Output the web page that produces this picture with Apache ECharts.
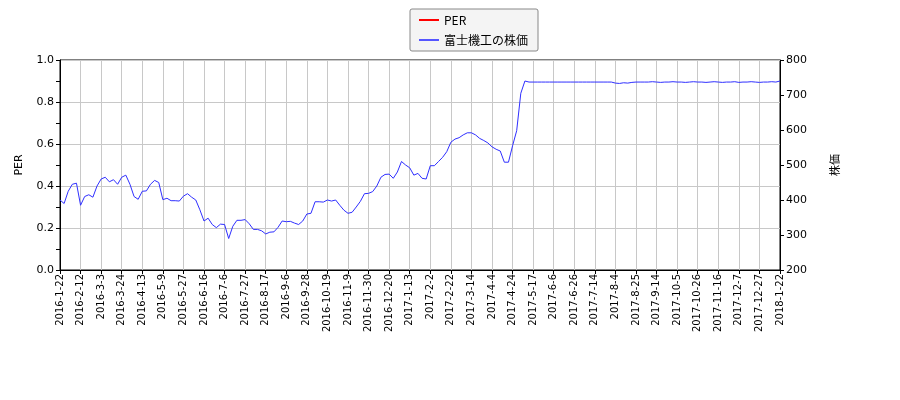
<!DOCTYPE html>
<html>
<head>
<meta charset="utf-8">
<script src="https://cdn.jsdelivr.net/npm/echarts@6/dist/echarts.min.js"></script>
<style>
html,body{margin:0;padding:0;background:#fff;}
#chart{width:900px;height:400px;}
</style>
</head>
<body>
<div id="chart"></div>
<script>
// Tick labels along the x axis (evenly spaced ticks)
const tickLabels = [
  "2016-1-22","2016-2-12","2016-3-3","2016-3-24","2016-4-13","2016-5-9","2016-5-27",
  "2016-6-16","2016-7-6","2016-7-27","2016-8-17","2016-9-6","2016-9-28","2016-10-19",
  "2016-11-9","2016-11-30","2016-12-20","2017-1-13","2017-2-2","2017-2-22","2017-3-14",
  "2017-4-4","2017-4-24","2017-5-17","2017-6-6","2017-6-26","2017-7-14","2017-8-4",
  "2017-8-25","2017-9-14","2017-10-5","2017-10-26","2017-11-16","2017-12-7","2017-12-27",
  "2018-1-22"
];
// samples per tick interval for the price series
const samplesPerTick = 5;
// 富士機工の株価 (5 samples per tick interval)
const price = [
  400,390,425,445,448,385,410,415,408,440,
  460,465,452,458,445,465,471,445,410,402,
  425,426,445,456,450,401,405,398,398,397,
  411,418,408,400,372,340,348,330,321,331,
  330,290,325,342,342,344,332,316,316,312,
  303,308,309,322,340,338,339,334,330,340,
  360,362,395,395,394,400,397,400,385,371,
  362,365,380,396,418,419,424,440,465,473,
  474,462,480,510,500,492,471,476,462,460,
  498,498,510,522,538,565,574,578,586,592,
  592,586,576,570,563,552,545,540,508,508,
  555,598,705,740,737,
  737,737,737,737,737,737,737,737,737,737,
  737,737,737,737,737,737,737,737,737,737,
  734,733,735,734,736,737,737,
  737,737,738,737,736,737,737,738,737,737,
  736,737,738,737,737,736,737,738,737,736,
  737,737,738,736,737,737,738,737,736,737,
  737,738,737,740
];
// PER series (no values shown in the picture)
const per = [];

const seriesNames = ["PER","富士機工の株価"];

const chart = echarts.init(document.getElementById('chart'));
const gridColor = '#c8c8c8';
const labelFont = 'DejaVu Sans';

chart.setOption({
  animation: false,
  backgroundColor: '#ffffff',
  legend: {
    data: seriesNames,
    orient: 'vertical',
    left: 410,
    top: 9,
    padding: [5, 10, 5, 9],
    itemGap: 8,
    itemWidth: 20,
    itemHeight: 2,
    icon: 'rect',
    backgroundColor: '#f4f4f4',
    borderColor: '#888888',
    borderWidth: 1,
    borderRadius: 2,
    textStyle: { fontFamily: 'Noto Sans CJK JP', fontSize: 12, color: '#000' }
  },
  grid: {
    left: 60, right: 120, top: 60, bottom: 130,
    show: true, borderColor: '#000', borderWidth: 1, backgroundColor: 'transparent'
  },
  xAxis: {
    type: 'value',
    min: 0,
    max: tickLabels.length - 1,
    interval: 1,
    axisLine: { show: true, lineStyle: { color: '#000' } },
    axisTick: { show: true, inside: false, length: 4, lineStyle: { color: '#000' } },
    splitLine: { show: true, lineStyle: { color: gridColor, width: 1 } },
    axisLabel: {
      rotate: 90,
      fontFamily: labelFont,
      fontSize: 10,
      color: '#000',
      margin: 4,
      showMinLabel: true,
      showMaxLabel: true,
      formatter: v => tickLabels[Math.round(v)] || ''
    }
  },
  yAxis: [
    {
      type: 'value',
      min: 0, max: 1, interval: 0.2,
      name: 'PER',
      nameLocation: 'middle',
      nameRotate: 90,
      nameGap: 35,
      nameTextStyle: { fontFamily: labelFont, fontSize: 11, color: '#000' },
      axisLine: { show: true, lineStyle: { color: '#000' } },
      axisTick: { show: true, inside: false, length: 4, lineStyle: { color: '#000' } },
      minorTick: { show: true, splitNumber: 2, length: 4, lineStyle: { color: '#000' } },
      splitLine: { show: true, lineStyle: { color: gridColor, width: 1 } },
      axisLabel: {
        fontFamily: labelFont, fontSize: 11, color: '#000', margin: 6,
        formatter: v => v.toFixed(1)
      }
    },
    {
      type: 'value',
      min: 200, max: 800, interval: 100,
      position: 'right',
      name: '株価',
      nameLocation: 'middle',
      nameRotate: 90,
      nameGap: 49,
      nameTextStyle: { fontFamily: 'Noto Sans CJK JP', fontSize: 11, color: '#000' },
      axisLine: { show: true, lineStyle: { color: '#000' } },
      axisTick: { show: true, inside: false, length: 4, lineStyle: { color: '#000' } },
      splitLine: { show: false },
      axisLabel: { fontFamily: labelFont, fontSize: 11, color: '#000', margin: 6 }
    }
  ],
  series: [
    {
      name: seriesNames[0],
      type: 'line',
      yAxisIndex: 0,
      data: per,
      showSymbol: false,
      itemStyle: { color: '#ff0000' },
      lineStyle: { color: '#ff0000', width: 1 }
    },
    {
      name: seriesNames[1],
      type: 'line',
      yAxisIndex: 1,
      data: price.map((p, i) => [i / samplesPerTick, p]),
      showSymbol: false,
      itemStyle: { color: '#5555ff' },
      lineStyle: { color: '#2f2fff', width: 1 }
    }
  ]
});
</script>
</body>
</html>
